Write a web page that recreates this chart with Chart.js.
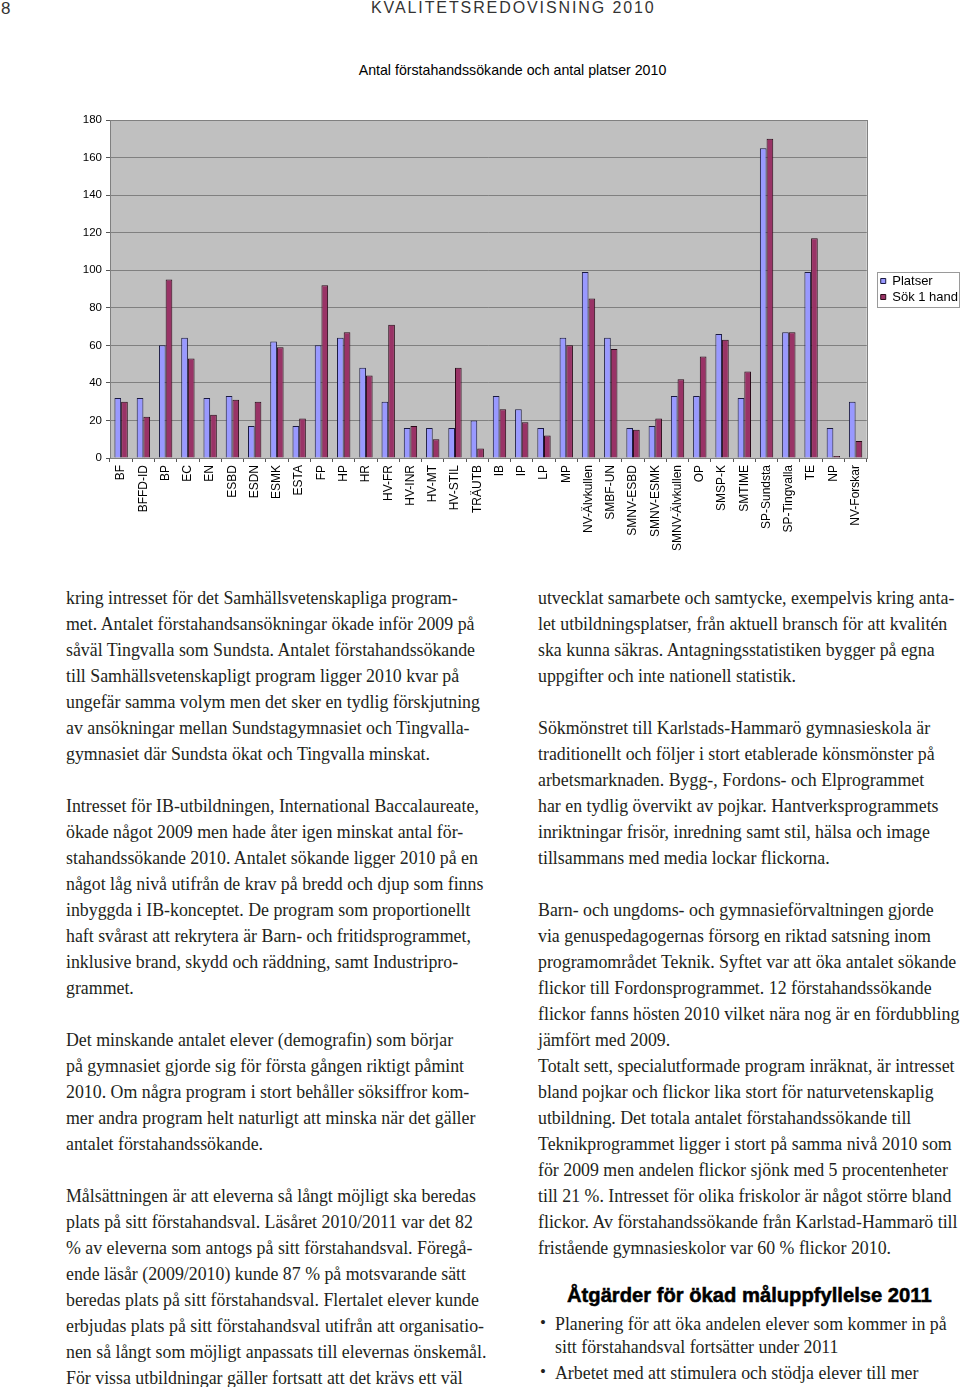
<!DOCTYPE html>
<html lang="sv">
<head>
<meta charset="utf-8">
<title>Kvalitetsredovisning 2010</title>
<script src="https://cdn.jsdelivr.net/npm/chart.js@4.4.1/dist/chart.umd.min.js"></script>
<style>
  body { margin: 0; width: 960px; height: 1387px; position: relative; overflow: hidden; background: #fff; color: #231f20; }
  .hdr { position: absolute; top: -1px; font-family: "Liberation Sans", Arial, sans-serif; font-size: 16px; color: #333; }
  #pageNo { left: 1px; font-size: 17px; }
  #runningHead { left: 371px; letter-spacing: 1.9px; }
  #chartTitle { position: absolute; top: 62px; left: 0; width: 1025px; text-align: center; font-family: "Liberation Sans", Arial, sans-serif; font-size: 14.2px; color: #000; }
  #chartBox { position: absolute; left: 0; top: 100px; }
  .line { position: absolute; white-space: nowrap; font-family: "Liberation Serif", "Times New Roman", serif; line-height: 20px; }
  #heading { position: absolute; left: 567px; top: 1284px; font-family: "Liberation Sans", Arial, sans-serif; font-weight: bold; font-size: 20.2px; color: #000; white-space: nowrap; -webkit-text-stroke: 0.5px #000; }
  .bullet { position: absolute; left: 540px; font-family: "Liberation Serif", serif; font-size: 17px; }
</style>
</head>
<body>
<div class="hdr" id="pageNo">8</div>
<div class="hdr" id="runningHead">KVALITETSREDOVISNING 2010</div>
<div id="chartTitle">Antal förstahandssökande och antal platser 2010</div>
<div id="chartBox"><canvas id="chartPlatser" width="960" height="460"></canvas></div>
<div id="heading">Åtgärder för ökad måluppfyllelse 2011</div>
<div id="textArea"></div>

<script>
const categories = [
    'BF', 'BFFD-ID', 'BP', 'EC', 'EN', 'ESBD', 'ESDN', 'ESMK', 'ESTA', 'FP',
    'HP', 'HR', 'HV-FR', 'HV-INR', 'HV-MT', 'HV-STIL', 'TRÄUTB', 'IB', 'IP', 'LP',
    'MP', 'NV-Älvkullen', 'SMBF-UN', 'SMNV-ESBD', 'SMNV-ESMK', 'SMNV-Älvkullen', 'OP', 'SMSP-K', 'SMTIME', 'SP-Sundsta',
    'SP-Tingvalla', 'TE', 'NP', 'NV-Forskar'
];
const platser = [
    32, 32, 60, 64, 32, 33, 17, 62, 17, 60,
    64, 48, 30, 16, 16, 16, 20, 33, 26, 16,
    64, 99, 64, 16, 17, 33, 33, 66, 32, 165,
    67, 99, 16, 30
];
const sokForstaHand = [
    30, 22, 95, 53, 23, 31, 30, 59, 21, 92,
    67, 44, 71, 17, 10, 48, 5, 26, 19, 12,
    60, 85, 58, 15, 21, 42, 54, 63, 46, 170,
    67, 117, 1, 9
];
const seriesLabels = ['Platser', 'Sök 1 hand'];
const yMin = 0;
const yMax = 180;
const yStep = 20;

// grey plot area + thin frame, like the old Excel default
const plotBackground = {
    id: 'plotBackground',
    beforeDraw(chart) {
        const { ctx, chartArea } = chart;
        ctx.save();
        ctx.fillStyle = '#c0c0c0';
        ctx.fillRect(chartArea.left, chartArea.top, chartArea.width, chartArea.height);
        ctx.restore();
    },
    afterDraw(chart) {
        const { ctx, chartArea } = chart;
        ctx.save();
        ctx.strokeStyle = '#808080';
        ctx.lineWidth = 1;
        ctx.strokeRect(Math.round(chartArea.left) + 0.5, Math.round(chartArea.top) + 0.5,
            Math.round(chartArea.width), Math.round(chartArea.height));
        // frame round the legend
        const boxes = chart.legend.legendHitBoxes;
        if (boxes && boxes.length) {
            const left = Math.min(...boxes.map(b => b.left)) - 4;
            const top = Math.min(...boxes.map(b => b.top)) - 3;
            const right = chart.width - 1;
            const bottom = Math.max(...boxes.map(b => b.top + b.height)) + 3;
            ctx.strokeStyle = '#9a9a9a';
            ctx.strokeRect(Math.round(left) + 0.5, Math.round(top) + 0.5, Math.round(right - left), Math.round(bottom - top));
        }
        ctx.restore();
    }
};

const fontFamily = 'Liberation Sans, Arial, sans-serif';

new Chart(document.getElementById('chartPlatser').getContext('2d'), {
    type: 'bar',
    data: {
        labels: categories,
        datasets: [
            {
                label: seriesLabels[0],
                data: platser,
                backgroundColor: '#9999ff',
                borderColor: '#1a1a40',
                borderWidth: 1
            },
            {
                label: seriesLabels[1],
                data: sokForstaHand,
                backgroundColor: '#993366',
                borderColor: '#2a0a18',
                borderWidth: 1
            }
        ]
    },
    options: {
        responsive: false,
        animation: false,
        devicePixelRatio: 1,
        layout: { padding: { left: 70, top: 20, right: -8, bottom: 0 } },
        datasets: { bar: { categoryPercentage: 0.6, barPercentage: 1 } },
        scales: {
            x: {
                afterFit: s => { s.height = 102; },
                ticks: {
                    autoSkip: false, maxRotation: 90, minRotation: 90,
                    font: { family: fontFamily, size: 12 }, color: '#000', padding: 3
                },
                grid: { drawOnChartArea: false, tickLength: 4, tickColor: '#555' },
                border: { color: '#555' }
            },
            y: {
                min: yMin,
                max: yMax,
                afterFit: s => { s.width = 40; },
                ticks: { stepSize: yStep, font: { family: fontFamily, size: 11.5 }, color: '#000', padding: 4 },
                grid: { color: '#808080', tickLength: 4, tickColor: '#555' },
                border: { color: '#555' }
            },
            // empty strip between plot and legend
            yGap: {
                type: 'linear',
                axis: 'y',
                position: 'right',
                afterFit: s => { s.width = 11; },
                ticks: { display: false },
                grid: { display: false },
                border: { display: false }
            }
        },
        plugins: {
            legend: {
                position: 'right',
                fullSize: false,
                labels: {
                    boxWidth: 5, boxHeight: 5, padding: 3,
                    font: { family: fontFamily, size: 13 }, color: '#000'
                }
            },
            tooltip: { enabled: false }
        }
    },
    plugins: [plotBackground]
});

// body text, line by line as in the printed page
const leftColumn = [
    'kring intresset för det Samhällsvetenskapliga program-',
    'met. Antalet förstahandsansökningar ökade inför 2009 på',
    'såväl Tingvalla som Sundsta. Antalet förstahandssökande',
    'till Samhällsvetenskapligt program ligger 2010 kvar på',
    'ungefär samma volym men det sker en tydlig förskjutning',
    'av ansökningar mellan Sundstagymnasiet och Tingvalla-',
    'gymnasiet där Sundsta ökat och Tingvalla minskat.',
    '',
    'Intresset för IB-utbildningen, International Baccalaureate,',
    'ökade något 2009 men hade åter igen minskat antal för-',
    'stahandssökande 2010. Antalet sökande ligger 2010 på en',
    'något låg nivå utifrån de krav på bredd och djup som finns',
    'inbyggda i IB-konceptet. De program som proportionellt',
    'haft svårast att rekrytera är Barn- och fritidsprogrammet,',
    'inklusive brand, skydd och räddning, samt Industripro-',
    'grammet.',
    '',
    'Det minskande antalet elever (demografin) som börjar',
    'på gymnasiet gjorde sig för första gången riktigt påmint',
    '2010. Om några program i stort behåller söksiffror kom-',
    'mer andra program helt naturligt att minska när det gäller',
    'antalet förstahandssökande.',
    '',
    'Målsättningen är att eleverna så långt möjligt ska beredas',
    'plats på sitt förstahandsval. Läsåret 2010/2011 var det 82',
    '% av eleverna som antogs på sitt förstahandsval. Föregå-',
    'ende läsår (2009/2010) kunde 87 % på motsvarande sätt',
    'beredas plats på sitt förstahandsval. Flertalet elever kunde',
    'erbjudas plats på sitt förstahandsval utifrån att organisatio-',
    'nen så långt som möjligt anpassats till elevernas önskemål.',
    'För vissa utbildningar gäller fortsatt att det krävs ett väl'
];
const rightColumn = [
    'utvecklat samarbete och samtycke, exempelvis kring anta-',
    'let utbildningsplatser, från aktuell bransch för att kvalitén',
    'ska kunna säkras. Antagningsstatistiken bygger på egna',
    'uppgifter och inte nationell statistik.',
    '',
    'Sökmönstret till Karlstads-Hammarö gymnasieskola är',
    'traditionellt och följer i stort etablerade könsmönster på',
    'arbetsmarknaden. Bygg-, Fordons- och Elprogrammet',
    'har en tydlig övervikt av pojkar. Hantverksprogrammets',
    'inriktningar frisör, inredning samt stil, hälsa och image',
    'tillsammans med media lockar flickorna.',
    '',
    'Barn- och ungdoms- och gymnasieförvaltningen gjorde',
    'via genuspedagogernas försorg en riktad satsning inom',
    'programområdet Teknik. Syftet var att öka antalet sökande',
    'flickor till Fordonsprogrammet. 12 förstahandssökande',
    'flickor fanns hösten 2010 vilket nära nog är en fördubbling',
    'jämfört med 2009.',
    'Totalt sett, specialutformade program inräknat, är intresset',
    'bland pojkar och flickor lika stort för naturvetenskaplig',
    'utbildning. Det totala antalet förstahandssökande till',
    'Teknikprogrammet ligger i stort på samma nivå 2010 som',
    'för 2009 men andelen flickor sjönk med 5 procentenheter',
    'till 21 %. Intresset för olika friskolor är något större bland',
    'flickor. Av förstahandssökande från Karlstad-Hammarö till',
    'fristående gymnasieskolor var 60 % flickor 2010.'
];
const bulletLines = [
    ['•', 'Planering för att öka andelen elever som kommer in på', 1324],
    ['', 'sitt förstahandsval fortsätter under 2011', 1347],
    ['•', 'Arbetet med att stimulera och stödja elever till mer', 1373]
];

// size the serif so a full line has the printed width
const measure = document.createElement('canvas').getContext('2d');
measure.font = '100px "Liberation Serif"';
const refWidth = measure.measureText('ungefär samma volym men det sker en tydlig förskjutning').width;
const bodySize = Math.min(18, 414 / refWidth * 100);

const textArea = document.getElementById('textArea');
function addLine(text, x, yCenter, size) {
    const div = document.createElement('div');
    div.className = 'line';
    div.style.left = x + 'px';
    div.style.top = (yCenter - 10) + 'px';
    div.style.fontSize = size + 'px';
    div.textContent = text;
    textArea.appendChild(div);
}
leftColumn.forEach((t, i) => { if (t) addLine(t, 66, 598 + i * 26, bodySize); });
rightColumn.forEach((t, i) => { if (t) addLine(t, 538, 598 + i * 26, bodySize); });
bulletLines.forEach(([b, t, y]) => {
    if (b) {
        const dot = document.createElement('div');
        dot.className = 'bullet';
        dot.style.top = (y - 11) + 'px';
        dot.textContent = b;
        textArea.appendChild(dot);
    }
    addLine(t, 555, y, bodySize);
});
</script>
</body>
</html>
